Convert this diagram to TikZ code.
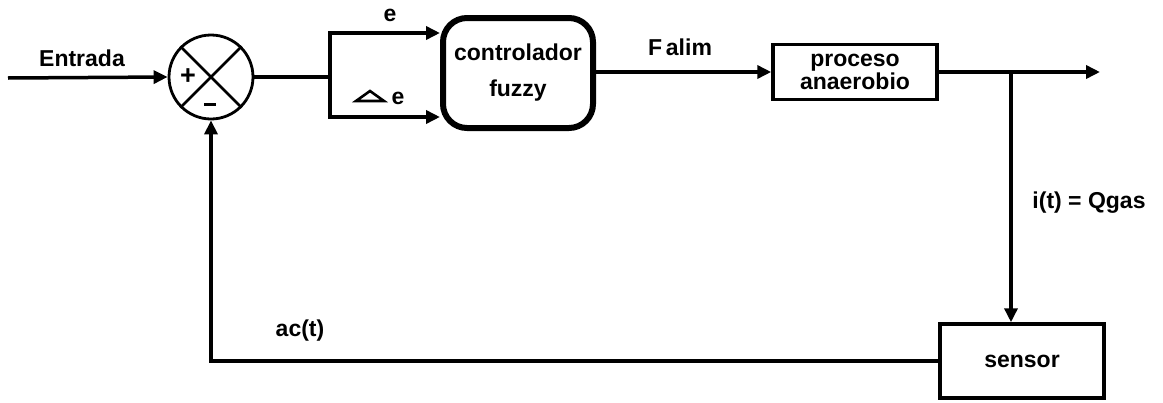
\documentclass[tikz,border=0pt]{standalone}
\usepackage{fontspec}
\setmainfont{Liberation Sans}
\usetikzlibrary{arrows.meta}
\begin{document}
\begin{tikzpicture}[x=1pt,y=-1pt,
  font=\fontsize{23}{26}\selectfont\bfseries,
  conn/.style={line width=3.5pt},
  arr/.style={conn,-{Triangle[length=14pt,width=13pt]}},
  blk/.style={draw,line width=3.5pt,inner sep=0pt,align=center},
  lbl/.style={inner sep=0pt}]
\useasboundingbox (0,0) rectangle (1163,402);
% summing junction
\node[draw,circle,line width=2.8pt,minimum size=84pt,inner sep=0pt] (sum) at (211,77) {};
\draw[line width=2.8pt] (sum.north west) -- (sum.south east);
\draw[line width=2.8pt] (sum.north east) -- (sum.south west);
\node[lbl,font=\fontsize{27}{27}\selectfont\bfseries] (plus) at (188,77) {+};
\node[lbl] (minus) at (210,104) {\rule{12pt}{3pt}};
% input
\coordinate (in) at (8,78);
\draw[arr] (in) -- (sum.west);
\node[lbl] (tin) at (82,58) {Entrada};
% split
\coordinate (s) at (330,77);
\coordinate (st) at (330,33);
\coordinate (sb) at (330,117);
\draw[conn] (sum.east) -- (s);
\draw[conn] (st) -- (sb);
% controller
\node[blk,rounded corners=24pt,line width=6pt,minimum width=150pt,minimum height=110pt] (ctrl) at (518,73) {controlador\\[10pt]fuzzy};
\draw[arr] ([xshift=-1.75pt]st) -- (st -| ctrl.west);
\draw[arr] ([xshift=-1.75pt]sb) -- (sb -| ctrl.west);
\node[lbl] (te) at (390,15) {e};
\draw[line width=2.6pt,line join=miter] (356,101) -- (384,101) -- (370,91) -- cycle;
\node[lbl] (tde) at (398,98) {e};
% process
\node[blk,minimum width=164pt,minimum height=55pt] (proc) at (855,72) {proceso\\[-3pt]anaerobio};
\draw[arr] (ctrl.east |- proc.west) -- (proc.west);
\node[lbl] (tf) at (680,47) {F\,alim};
% output
\coordinate (br) at (1011,72);
\coordinate (out) at (1100,72);
\draw[arr] (proc.east) -- (out);
% sensor
\node[blk,minimum width=164pt,minimum height=74pt] (sens) at (1022,361) {sensor};
\draw[arr] (br) -- (br |- sens.north);
\node[lbl] (ti) at (1089,203) {i(t) = Qgas};
% feedback
\coordinate (fb) at (sens.west -| sum.south);
\draw[conn] (sens.west) -- ([xshift=-1.75pt]fb);
\draw[arr] (fb) -- (sum.south);
\node[lbl] (tac) at (300,331) {ac(t)};
\end{tikzpicture}
\end{document}
